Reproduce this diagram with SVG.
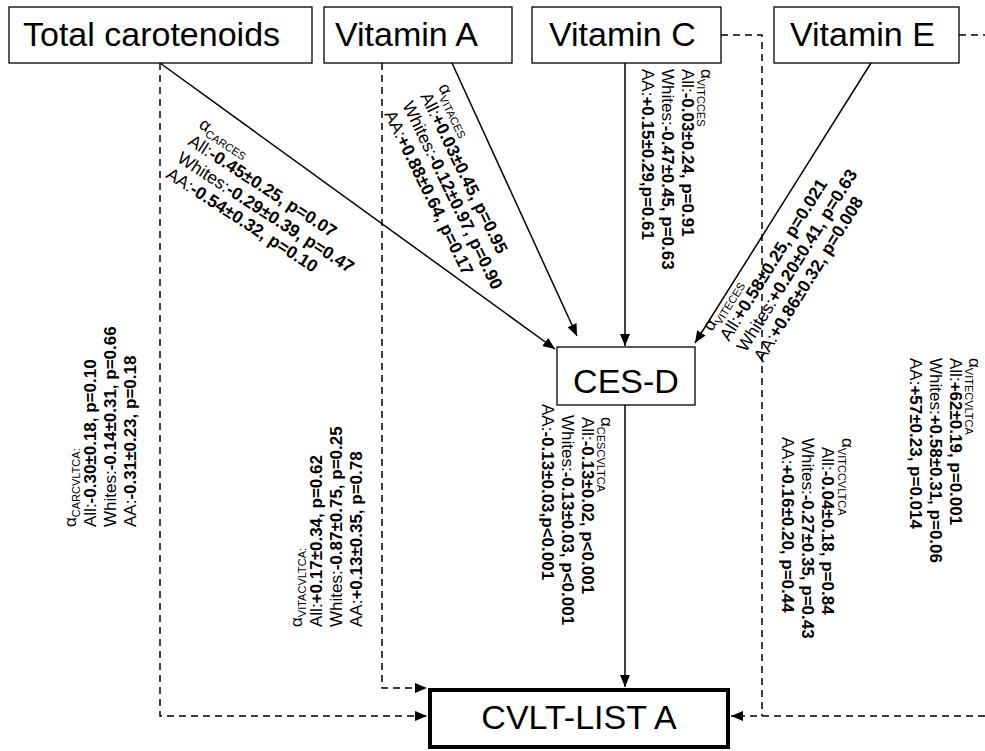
<svg xmlns="http://www.w3.org/2000/svg" width="985" height="751" viewBox="0 0 985 751">
<style>
.box{fill:#fff;stroke:#000;stroke-width:1.3}
.big{font-family:"Liberation Sans",Arial,sans-serif;font-size:34px;fill:#000}
.t{font-family:"Liberation Sans",Arial,sans-serif;font-size:17px;fill:#000}
.d{font-size:17.5px}
.b{font-weight:bold}
.sub{font-size:11px}
.solid{stroke:#000;stroke-width:1.5;fill:none}
.dash{stroke:#000;stroke-width:1.5;fill:none;stroke-dasharray:7 5}
</style>
<defs>
<marker id="ah" viewBox="0 0 12 10" refX="12" refY="5" markerWidth="12" markerHeight="10" orient="auto" markerUnits="userSpaceOnUse"><path d="M0,0 L12,5 L0,10 z" fill="#000"/></marker>
</defs>
<rect width="985" height="751" fill="#fff"/>
<g id="connectors">
<path class="solid" d="M160,63 L555,349" marker-end="url(#ah)"/>
<path class="solid" d="M452,63 L577,336" marker-end="url(#ah)"/>
<path class="solid" d="M625,63 L625,346" marker-end="url(#ah)"/>
<path class="solid" d="M871,63 L695,343" marker-end="url(#ah)"/>
<path class="solid" d="M625,405 L625,687" marker-end="url(#ah)"/>
<path class="dash" d="M160,63 L160,716 L427,716" marker-end="url(#ah)"/>
<path class="dash" d="M382,63 L382,688 L427,688" marker-end="url(#ah)"/>
<path class="dash" d="M721,35 L762,35 L762,716"/>
<path class="dash" d="M959,35 L985,35"/>
<path class="dash" d="M985,716 L731,716" marker-end="url(#ah)"/>
</g>
<g id="n-carotenoids"><rect class="box" x="9" y="7" width="303" height="56"/><text class="big" x="23" y="46">Total carotenoids</text></g>
<g id="n-vitA"><rect class="box" x="324" y="7" width="188" height="56"/><text class="big" x="335" y="46">Vitamin A</text></g>
<g id="n-vitC"><rect class="box" x="532" y="7" width="189" height="56"/><text class="big" x="549" y="46">Vitamin C</text></g>
<g id="n-vitE"><rect class="box" x="774" y="7" width="185" height="56"/><text class="big" x="790" y="46">Vitamin E</text></g>
<g id="n-cesd"><rect class="box" x="557" y="347" width="138" height="58"/><text class="big" x="626" y="393" text-anchor="middle">CES-D</text></g>
<g id="n-cvlt"><rect x="430" y="690" width="298" height="57" fill="#fff" stroke="#000" stroke-width="4"/><text class="big" x="579" y="729" text-anchor="middle">CVLT-LIST A</text></g>
<g id="lbl-carces" class="t d">
<text transform="translate(198,127) rotate(33)">α<tspan class="sub" dy="4">CARCES</tspan></text>
<text transform="translate(187,144) rotate(33)">All:<tspan class="b">-0.45±0.25, p=0.07</tspan></text>
<text transform="translate(176,161) rotate(33)">Whites:<tspan class="b">-0.29±0.39, p=0.47</tspan></text>
<text transform="translate(165,177) rotate(33)">AA:<tspan class="b">-0.54±0.32, p=0.10</tspan></text>
</g>
<g id="lbl-vitaces" class="t d">
<text transform="translate(438,87) rotate(64)">α<tspan class="sub" dy="4">VITACES</tspan></text>
<text transform="translate(420,96) rotate(64)">All:<tspan class="b">+0.03±0.45, p=0.95</tspan></text>
<text transform="translate(402,105) rotate(64)">Whites:<tspan class="b">-0.12±0.97, p=0.90</tspan></text>
<text transform="translate(384,114) rotate(64)">AA:<tspan class="b">+0.88±0.64, p=0.17</tspan></text>
</g>
<g id="lbl-vitcces" class="t">
<text transform="translate(701,69) rotate(90)">α<tspan class="sub" dy="4">VITCCES</tspan></text>
<text transform="translate(682,69) rotate(90)">All:<tspan class="b">-0.03±0.24, p=0.91</tspan></text>
<text transform="translate(662,69) rotate(90)">Whites:<tspan class="b">-0.47±0.45, p=0.63</tspan></text>
<text transform="translate(642,69) rotate(90)">AA:<tspan class="b">+0.15±0.29,p=0.61</tspan></text>
</g>
<g id="lbl-viteces" class="t d">
<text transform="translate(712,332) rotate(-58)">α<tspan class="sub" dy="4">VITECES</tspan></text>
<text transform="translate(729,342) rotate(-58)">All:<tspan class="b">+0.58±0.25, p=0.021</tspan></text>
<text transform="translate(746,353) rotate(-58)">Whites:<tspan class="b">+0.20±0.41, p=0.63</tspan></text>
<text transform="translate(763,363) rotate(-58)">AA:<tspan class="b">+0.86±0.32, p=0.008</tspan></text>
</g>
<g id="lbl-cescvltca" class="t">
<text transform="translate(601,417) rotate(90)">α<tspan class="sub" dy="4">CESCVLTCA</tspan></text>
<text transform="translate(582,417) rotate(90)">All:<tspan class="b">-0.13±0.02, p&lt;0.001</tspan></text>
<text transform="translate(562,415) rotate(90)">Whites:<tspan class="b">-0.13±0.03, p&lt;0.001</tspan></text>
<text transform="translate(542,404) rotate(90)">AA:<tspan class="b">-0.13±0.03,p&lt;0.001</tspan></text>
</g>
<g id="lbl-vitccvltca" class="t">
<text transform="translate(842,438) rotate(90)">α<tspan class="sub" dy="4">VITCCVLTCA</tspan></text>
<text transform="translate(822,447) rotate(90)">All:<tspan class="b">-0.04±0.18, p=0.84</tspan></text>
<text transform="translate(802,438) rotate(90)">Whites:<tspan class="b">-0.27±0.35, p=0.43</tspan></text>
<text transform="translate(782,437) rotate(90)">AA:<tspan class="b">+0.16±0.20, p=0.44</tspan></text>
</g>
<g id="lbl-vitecvltca" class="t">
<text transform="translate(969,358) rotate(90)">α<tspan class="sub" dy="4">VITECVLTCA</tspan></text>
<text transform="translate(950,358) rotate(90)">All:<tspan class="b">+62±0.19, p=0.001</tspan></text>
<text transform="translate(930,358) rotate(90)">Whites:<tspan class="b">+0.58±0.31, p=0.06</tspan></text>
<text transform="translate(910,358) rotate(90)">AA:<tspan class="b">+57±0.23, p=0.014</tspan></text>
</g>
<g id="lbl-carcvltca" class="t">
<text transform="translate(76,527) rotate(-90)">α<tspan class="sub" dy="4">CARCVLTCA:</tspan></text>
<text transform="translate(96,527) rotate(-90)">All:<tspan class="b">-0.30±0.18, p=0.10</tspan></text>
<text transform="translate(116,527) rotate(-90)">Whites:<tspan class="b">-0.14±0.31, p=0.66</tspan></text>
<text transform="translate(136,527) rotate(-90)">AA:<tspan class="b">-0.31±0.23, p=0.18</tspan></text>
</g>
<g id="lbl-vitacvltca" class="t">
<text transform="translate(302,627) rotate(-90)">α<tspan class="sub" dy="4">VITACVLTCA:</tspan></text>
<text transform="translate(322,627) rotate(-90)">All:<tspan class="b">+0.17±0.34, p=0.62</tspan></text>
<text transform="translate(342,627) rotate(-90)">Whites:<tspan class="b">-0.87±0.75, p=0.25</tspan></text>
<text transform="translate(362,627) rotate(-90)">AA:<tspan class="b">+0.13±0.35, p=0.78</tspan></text>
</g>
</svg>
